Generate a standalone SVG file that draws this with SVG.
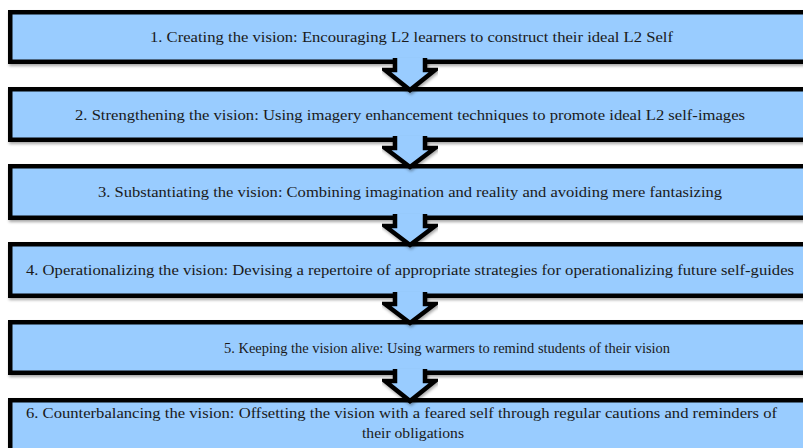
<svg xmlns="http://www.w3.org/2000/svg" width="803" height="448" viewBox="0 0 803 448">
<defs>
<filter id="sh" x="-5%" y="-20%" width="110%" height="150%">
<feDropShadow dx="1" dy="2" stdDeviation="1.5" flood-color="#000" flood-opacity="0.35"/>
</filter>
<style>
.box{fill:#99CCFF;stroke:#000;stroke-width:4.5;filter:url(#sh)}
.arr{fill:#99CCFF;stroke:#000;stroke-width:4.5;stroke-linejoin:miter;filter:url(#sh)}
.t{font-family:"Liberation Serif","Times New Roman",serif;font-size:15px;fill:#1a1a1a;text-anchor:middle}
</style>
</defs>
<rect width="803" height="448" fill="#fff"/>
<g id="nodes">
<g id="step1"><rect class="box" x="10.25" y="12.25" width="805" height="49.5"/>
<text class="t" x="411.5" y="42" textLength="523" lengthAdjust="spacingAndGlyphs">1. Creating the vision: Encouraging L2 learners to construct their ideal L2 Self</text></g>
<g id="step2"><rect class="box" x="10.25" y="89.25" width="805" height="50.5"/>
<text class="t" x="410" y="119.5" textLength="670" lengthAdjust="spacingAndGlyphs">2. Strengthening the vision: Using imagery enhancement techniques to promote ideal L2 self-images</text></g>
<g id="step3"><rect class="box" x="10.25" y="166.25" width="805" height="51.5"/>
<text class="t" x="410" y="197" textLength="624" lengthAdjust="spacingAndGlyphs">3. Substantiating the vision: Combining imagination and reality and avoiding mere fantasizing</text></g>
<g id="step4"><rect class="box" x="10.25" y="244.25" width="805" height="51.5"/>
<text class="t" x="410" y="275" textLength="768" lengthAdjust="spacingAndGlyphs">4. Operationalizing the vision: Devising a repertoire of appropriate strategies for operationalizing future self-guides</text></g>
<g id="step5"><rect class="box" x="10.25" y="322.25" width="805" height="50.5"/>
<text class="t" x="447" y="352.5" textLength="446" lengthAdjust="spacingAndGlyphs">5. Keeping the vision alive: Using warmers to remind students of their vision</text></g>
<g id="step6"><rect class="box" x="10.25" y="400.25" width="805" height="60"/>
<text class="t" x="401.5" y="418" textLength="751" lengthAdjust="spacingAndGlyphs">6. Counterbalancing the vision: Offsetting the vision with a feared self through regular cautions and reminders of</text>
<text class="t" x="413" y="438" textLength="102" lengthAdjust="spacingAndGlyphs">their obligations</text></g>
</g>
<g id="connectors">
<path class="arr" d="M395,58 L395,70 L385,70 L410,90 L435,70 L425,70 L425,58"/>
<path class="arr" d="M395,136 L395,148 L385,148 L410,167 L435,148 L425,148 L425,136"/>
<path class="arr" d="M395,214 L395,226 L385,226 L410,245 L435,226 L425,226 L425,214"/>
<path class="arr" d="M395,292 L395,304 L385,304 L410,323 L435,304 L425,304 L425,292"/>
<path class="arr" d="M395,369 L395,381 L385,381 L410,401 L435,381 L425,381 L425,369"/>
</g>
</svg>
